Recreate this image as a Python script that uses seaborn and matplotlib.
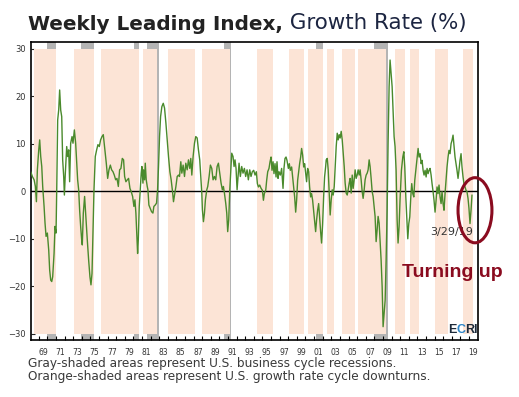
import numpy as np
import pandas as pd
import seaborn as sns
import matplotlib
matplotlib.use("Agg")
import matplotlib.pyplot as plt
from matplotlib.patches import Ellipse

# weekly leading index growth rate (decimal year, %)
wli_years = [
    1968.07, 1968.26, 1968.46, 1968.61, 1968.73, 1968.84, 1969.00, 1969.11, 1969.23, 1969.35,
    1969.46, 1969.62, 1969.73, 1969.85, 1970.00, 1970.16, 1970.27, 1970.39, 1970.51, 1970.62,
    1970.78, 1970.89, 1971.01, 1971.09, 1971.20, 1971.32, 1971.43, 1971.55, 1971.67, 1971.78,
    1971.90, 1971.98, 1972.09, 1972.25, 1972.36, 1972.48, 1972.59, 1972.71, 1972.87, 1972.98,
    1973.14, 1973.29, 1973.41, 1973.52, 1973.64, 1973.75, 1973.87, 1973.99, 1974.06, 1974.18,
    1974.33, 1974.49, 1974.64, 1974.80, 1974.95, 1975.07, 1975.19, 1975.30, 1975.42, 1975.57,
    1975.73, 1975.88, 1976.04, 1976.19, 1976.35, 1976.50, 1976.65, 1976.81,
    1976.85, 1977.01, 1977.16, 1977.32, 1977.47, 1977.63, 1977.78, 1977.94, 1978.09, 1978.25,
    1978.40, 1978.55, 1978.71, 1978.86, 1978.98, 1979.13, 1979.29, 1979.44, 1979.60, 1979.75,
    1979.91, 1980.06, 1980.18, 1980.29, 1980.41, 1980.49, 1980.57, 1980.68, 1980.80, 1980.91,
    1980.99, 1981.11, 1981.18, 1981.30, 1981.38, 1981.49, 1981.61, 1981.69, 1981.80, 1981.96,
    1982.11, 1982.27, 1982.38, 1982.54, 1982.69, 1982.81, 1982.92, 1983.04, 1983.16, 1983.31,
    1983.47, 1983.62, 1983.78, 1983.93, 1984.08, 1984.24, 1984.39, 1984.55, 1984.66, 1984.78,
    1984.94, 1985.09, 1985.24,
    1985.36, 1985.51, 1985.63, 1985.78, 1985.94, 1986.09, 1986.25, 1986.40, 1986.55, 1986.67,
    1986.79, 1986.94, 1987.10, 1987.25, 1987.41, 1987.56, 1987.71, 1987.83, 1987.95, 1988.02,
    1988.14, 1988.26, 1988.37, 1988.53, 1988.64, 1988.80, 1988.95, 1989.11, 1989.26, 1989.42,
    1989.57, 1989.73, 1989.88, 1990.03, 1990.19, 1990.34, 1990.46, 1990.58, 1990.73, 1990.85,
    1990.96, 1991.08, 1991.20, 1991.31, 1991.43, 1991.58, 1991.70, 1991.81, 1991.93, 1992.05,
    1992.16, 1992.28, 1992.43, 1992.59, 1992.74, 1992.90, 1993.05, 1993.21, 1993.36, 1993.52,
    1993.67, 1993.82,
    1993.98, 1994.14, 1994.29, 1994.41, 1994.53, 1994.68, 1994.84, 1994.99, 1995.11, 1995.22,
    1995.38, 1995.49, 1995.61, 1995.76, 1995.88, 1996.00, 1996.11, 1996.23, 1996.34, 1996.46,
    1996.58, 1996.69, 1996.81, 1996.92, 1997.08, 1997.23, 1997.39, 1997.50, 1997.62, 1997.74,
    1997.85, 1998.01, 1998.12, 1998.24, 1998.39, 1998.51, 1998.63, 1998.74, 1998.86, 1998.97,
    1999.09, 1999.21, 1999.32, 1999.44, 1999.55, 1999.67, 1999.79, 1999.90, 2000.02, 2000.13,
    2000.25, 2000.37, 2000.48, 2000.60, 2000.71, 2000.83, 2000.94, 2001.06, 2001.18, 2001.29,
    2001.41, 2001.53, 2001.64, 2001.76, 2001.87, 2001.99, 2002.11, 2002.22, 2002.34,
    2002.41, 2002.53, 2002.64, 2002.76, 2002.87, 2002.99, 2003.11, 2003.22, 2003.34, 2003.45,
    2003.57, 2003.69, 2003.80, 2003.92, 2004.03, 2004.15, 2004.27, 2004.38, 2004.50, 2004.61,
    2004.73, 2004.85, 2004.96, 2005.08, 2005.19, 2005.31, 2005.43, 2005.54, 2005.66, 2005.77,
    2005.89, 2006.01, 2006.12, 2006.24, 2006.35, 2006.47, 2006.59, 2006.70, 2006.82, 2006.93,
    2007.05, 2007.17, 2007.28, 2007.40, 2007.51, 2007.63, 2007.75, 2007.86, 2007.98, 2008.09,
    2008.21, 2008.33, 2008.44, 2008.56, 2008.67, 2008.79, 2008.91, 2009.02, 2009.14, 2009.26,
    2009.37, 2009.49, 2009.60, 2009.72, 2009.83, 2009.95, 2010.07, 2010.18, 2010.30, 2010.41,
    2010.53, 2010.65, 2010.76, 2010.88, 2010.99,
    2011.15, 2011.31, 2011.43, 2011.54, 2011.66, 2011.77, 2011.89, 2012.01, 2012.12, 2012.24,
    2012.35, 2012.47, 2012.59, 2012.70, 2012.86, 2012.97, 2013.09, 2013.20, 2013.32, 2013.44,
    2013.55, 2013.67, 2013.78, 2013.90, 2014.02, 2014.13, 2014.25, 2014.36, 2014.48, 2014.60,
    2014.71, 2014.83, 2014.94, 2015.06, 2015.18, 2015.29, 2015.41, 2015.52, 2015.64, 2015.76,
    2015.87, 2015.99, 2016.10, 2016.22, 2016.34, 2016.45, 2016.57, 2016.68, 2016.80, 2016.92,
    2017.03, 2017.15, 2017.26, 2017.38, 2017.50, 2017.61, 2017.73, 2017.84, 2017.96, 2018.08,
    2018.19, 2018.31, 2018.42, 2018.54, 2018.66, 2018.77, 2018.89, 2019.00, 2019.12, 2019.24,
    2019.35,
]
wli_growth = [
    4.1, 3.1, 2.4, 1.0, -2.2, 4.5, 8.7, 10.8, 7.3, 5.2,
    1.0, -3.2, -6.7, -9.5, -8.8, -12.4, -16.6, -18.7, -19.0, -18.0,
    -13.1, -7.4, -8.8, 0.3, 15.0, 17.1, 21.3, 17.1, 15.7, 6.6,
    3.1, -0.8, 3.8, 9.4, 7.3, 8.7, 2.0, 10.1, 11.5, 10.1,
    12.9, 10.1, 5.9, 2.4, 0.3, -3.9, -7.4, -10.2, -11.3, -4.6,
    -1.1, -6.0, -10.2, -14.5, -18.0, -19.7, -17.3, -8.8, 0.3, 7.3,
    8.7, 9.8, 9.4, 10.8, 11.5, 11.9, 9.4, 6.6,
    5.9, 2.7, 4.5, 5.5, 4.5, 4.1, 3.4, 2.4, 2.7, 1.0,
    4.5, 4.8, 6.9, 6.6, 3.1, 2.0, 2.4, 2.7, 0.6, -0.1,
    -1.1, -3.2, -1.8, -4.6, -9.5, -13.1, -10.2, -3.2, 0.3, 3.8,
    5.2, 1.7, 4.5, 2.4, 5.9, 2.4, 1.0, 0.3, -2.9, -3.6,
    -4.3, -4.6, -3.2, -2.9, -2.5, 0.3, 5.2, 11.5, 15.7, 17.8,
    18.5, 17.5, 14.3, 10.8, 7.3, 4.1, 2.4, -0.1, -2.2, -0.8,
    1.0, 3.1, 3.4,
    3.1, 6.2, 3.8, 5.5, 3.1, 5.9, 4.5, 6.6, 4.8, 6.9,
    3.4, 7.3, 10.1, 11.5, 11.2, 8.7, 6.6, 3.1, -0.4, -3.9,
    -6.4, -4.6, -1.8, 0.3, 1.0, 3.1, 5.5, 4.8, 2.4, 3.1,
    2.4, 5.2, 5.9, 3.8, 1.7, 0.3, 1.0, -0.4, -2.5, -4.6,
    -8.5, -6.0, 0.3, 3.8, 8.0, 7.3, 5.2, 6.6, 4.8, 0.3,
    3.1, 5.9, 3.1, 5.2, 3.8, 4.8, 3.1, 4.5, 2.4, 4.5,
    3.1, 4.1,
    4.4, 3.4, 4.1, 1.6, 0.9, 1.3, 0.6, 0.2, -1.9, -0.5,
    0.2, 2.3, 4.1, 4.8, 6.2, 7.2, 4.4, 6.2, 3.7, 5.8,
    3.0, 6.2, 2.7, 4.1, 3.4, 4.8, 0.6, 4.8, 6.9, 7.2,
    6.5, 4.8, 5.8, 4.4, 5.1, 3.0, 0.9, -1.2, -4.4, -1.9,
    2.3, 4.1, 5.8, 7.2, 9.0, 7.6, 5.1, 5.8, 3.7, 2.0,
    4.8, 4.1, 0.9, -1.2, -0.5, -1.9, -4.0, -6.1, -8.5, -6.1,
    -4.0, -2.6, -5.5, -8.5, -10.9, -7.0, -1.2, 3.0, 5.1,
    6.6, 6.9, 4.5, -0.4, -5.0, -1.8, 0.3, -0.8, 1.0, 5.2,
    9.4, 12.2, 10.8, 11.9, 11.2, 12.6, 10.8, 8.0, 5.2, 1.7,
    -0.4, -0.8, 0.3, 1.7, 2.7, -0.4, 3.4, 0.6, 2.4, 4.5,
    2.7, 3.4, 4.5, 3.4, 4.5, 2.4, -0.1, -1.5, 0.3, 2.4,
    3.4, 3.8, 4.5, 6.6, 5.2, 2.7, -0.1, -1.1, -3.2, -5.3,
    -10.6, -8.1, -5.3, -6.7, -10.6, -14.5, -20.1, -28.5, -25.7, -22.9,
    -14.5, -3.9, 10.1, 22.0, 27.6, 24.8, 22.0, 17.1, 11.5, 9.4,
    4.5, -6.0, -10.9, -7.4, -1.8,
    4.4, 7.2, 8.3, 5.1, -1.2, -5.4, -10.0, -6.8, -5.4, -1.2,
    1.6, -0.5, -1.2, 2.3, 5.1, 7.2, 9.0, 7.2, 7.9, 5.8,
    6.5, 4.4, 3.4, 4.4, 3.0, 4.8, 3.7, 4.4, 4.8, 3.4,
    1.6, -0.1, -1.9, -4.4, -1.9, 0.9, -0.5, 1.3, -1.2, -2.6,
    -0.1, -2.6, -4.0, -0.5, 2.3, 5.1, 7.2, 8.6, 7.9, 10.0,
    10.7, 11.8, 9.7, 7.2, 5.8, 4.4, 2.7, 4.4, 6.5, 7.9,
    5.1, 3.0, 1.6, 0.9, 0.2, -0.1, -1.5, -3.6, -6.8, -4.0,
    -0.8,
]

# U.S. business cycle recessions (gray)
recession_starts = [1970.0, 1973.87, 1980.02, 1981.53, 1990.58, 2001.25, 2007.98]
recession_ends = [1970.97, 1975.38, 1980.68, 1983.0, 1991.35, 2002.03, 2009.55]

# U.S. growth rate cycle downturns (orange)
downturn_starts = [1968.5, 1973.06, 1976.19, 1981.07, 1984.08, 1988.03, 1994.41, 1998.12,
                   2000.33, 2002.53, 2004.27, 2006.13, 2010.4, 2012.16, 2015.06, 2018.3]
downturn_ends = [1970.97, 1975.38, 1980.62, 1982.72, 1987.18, 1991.27, 1996.25, 1999.86,
                 2002.07, 2003.3, 2005.8, 2009.37, 2011.58, 2013.2, 2016.56, 2019.46]

label_years = list(range(1969, 2020, 2))
y_ticks = [-30, -20, -10, 0, 10, 20, 30]

df = pd.DataFrame({"year": wli_years, "growth": wli_growth})

sns.set_style("white")
plt.rcParams['font.family'] = ['DejaVu Sans']

W, H = 519, 397
fig = plt.figure(figsize=(W / 100, H / 100), dpi=100)
ax = fig.add_axes([31 / W, 57 / H, 447 / W, 298.5 / H])

for s, e in zip(recession_starts, recession_ends):
    ax.axvspan(s, e, color='#b4b4b4', lw=0, zorder=0)
for s, e in zip(downturn_starts, downturn_ends):
    ax.fill_between([s, e], -30, 30, color='#fce4d6', lw=0, zorder=1)

ax.axhline(0, color='black', lw=1.0, zorder=2)
sns.lineplot(data=df, x="year", y="growth", color='#4a8a2c', lw=1.0,
             estimator=None, ax=ax, zorder=3)

ax.set_xlim(1968.1, 2020.05)
ax.set_ylim(-31.3, 31.5)
ax.set_xlabel("")
ax.set_ylabel("")

ax.set_xticks([y + 0.5 for y in label_years])
ax.set_xticklabels(["%02d" % (y % 100) for y in label_years])
ax.set_xticks(range(1969, 2020), minor=True)
ax.tick_params(axis='x', which='major', length=0, labelsize=5.5, pad=6,
               labelcolor='#333333', bottom=True)
ax.tick_params(axis='x', which='minor', direction='in', length=3, width=0.8,
               color='black', bottom=True)
ax.set_yticks(y_ticks)
ax.tick_params(axis='y', direction='in', length=3, width=0.8, labelsize=6, pad=4,
               labelcolor='#333333', left=True)
for sp in ax.spines.values():
    sp.set_color('black')
    sp.set_linewidth(1.2)
    sp.set_visible(True)

# annotations
ax.text(2016.97, -8.6, "3/29/19", ha='center', va='center', fontsize=8, color='#333333', zorder=5)
ax.text(2011.19, -18.0, "Turning up", ha='left', va='baseline', fontsize=14,
        fontweight='bold', family='Liberation Sans', color='#8a0b1f', zorder=5)
ax.add_patch(Ellipse((2019.7, -4.0), 3.94, 13.7, fill=False, edgecolor='#8a0b1f',
                     lw=2.2, clip_on=False, zorder=6))

renderer = fig.canvas.get_renderer()


def put_pieces(x0, y0, pieces):
    x = x0
    for txt, kw in pieces:
        t = fig.text(x, y0, txt, va='baseline', ha='left', **kw)
        bb = t.get_window_extent(renderer)
        x += bb.width / fig.bbox.width


put_pieces(28 / W, (H - 29.5) / H, [
    ("Weekly Leading Index,", dict(fontsize=14.4, fontweight='bold', color='#222222')),
    (" Growth Rate (%)", dict(fontsize=15.4, color='#1c2541')),
])

put_pieces(448 / W, (H - 332.7) / H, [
    ("E", dict(fontsize=9, fontweight='bold', family='Liberation Sans', color='#1d2a3a')),
    ("C", dict(fontsize=9, fontweight='bold', family='Liberation Sans', color='#2e86c8')),
    ("RI", dict(fontsize=9, fontweight='bold', family='Liberation Sans', color='#1d2a3a')),
])

fig.text(28 / W, (H - 366.5) / H, "Gray-shaded areas represent U.S. business cycle recessions.",
         fontsize=8.75, color='#3a3a3a', va='baseline')
fig.text(28 / W, (H - 380) / H, "Orange-shaded areas represent U.S. growth rate cycle downturns.",
         fontsize=8.75, color='#3a3a3a', va='baseline')

fig.savefig("out.png", dpi=100)
